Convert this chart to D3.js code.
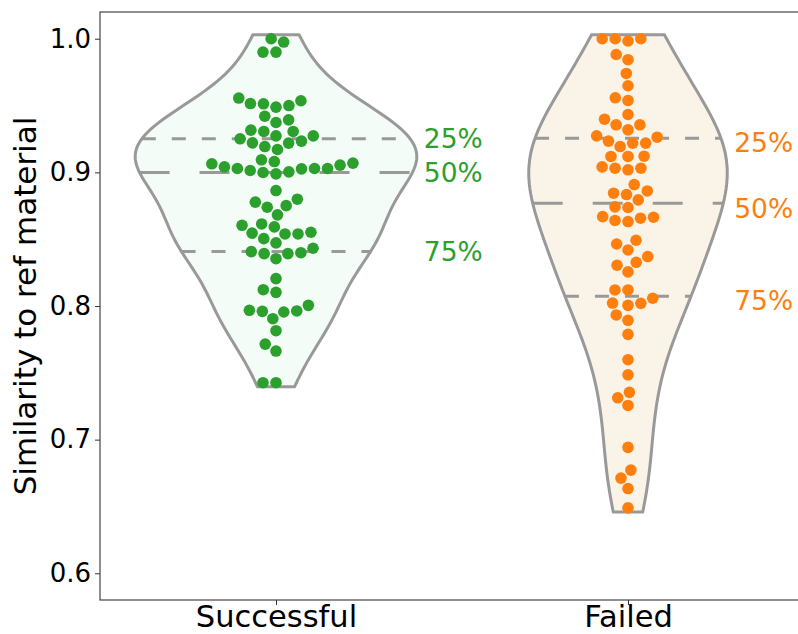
<!DOCTYPE html>
<html>
<head>
<meta charset="utf-8">
<script src="https://cdn.jsdelivr.net/npm/d3@7"></script>
<style>
  body { margin: 0; background: #fff; }
  svg { display: block; font-family: "DejaVu Sans", sans-serif; }
</style>
</head>
<body>
<svg id="chart" width="798" height="634"></svg>
<script>
// data
const categories = ["Successful", "Failed"];
const successful = [
    1.0, 0.9975, 0.990, 0.990,
    0.9556, 0.9536, 0.9515, 0.9513, 0.950, 0.9488,
    0.942, 0.9393, 0.9373,
    0.9316, 0.9306, 0.9306, 0.9273, 0.9273,
    0.9251, 0.9234, 0.9221, 0.9219, 0.9193, 0.9171,
    0.9094, 0.9081,
    0.9069, 0.9064, 0.9054, 0.9041, 0.9029, 0.9029, 0.9029, 0.9026, 0.9014, 0.9004, 0.8999, 0.8989,
    0.8864,
    0.8799, 0.8777, 0.8751, 0.8739,
    0.8682,
    0.8614, 0.8604, 0.8592, 0.8552, 0.8545, 0.8539, 0.8539,
    0.8504, 0.8472,
    0.8432, 0.8407, 0.8399, 0.8392, 0.8392, 0.8354,
    0.8205,
    0.8122, 0.8102,
    0.8005, 0.7968, 0.7963, 0.7960, 0.7955,
    0.7905,
    0.7815,
    0.7715, 0.7663,
    0.7426, 0.7426
];
const failed = [
    1.0, 1.0, 1.0, 0.9983,
    0.9882, 0.9843,
    0.974,
    0.9648,
    0.9558, 0.9538,
    0.9433,
    0.9398, 0.9356, 0.9356, 0.9318,
    0.9273, 0.9263,
    0.9234, 0.9219, 0.9219, 0.9193,
    0.9121, 0.9119, 0.9119,
    0.9041, 0.9031, 0.9031, 0.9019,
    0.8909,
    0.8861, 0.8844, 0.8834,
    0.8794,
    0.8742, 0.8737,
    0.8669, 0.8664, 0.8657, 0.864, 0.8632,
    0.8492, 0.8464, 0.8419,
    0.837, 0.8327, 0.8305,
    0.8255,
    0.812, 0.812, 0.8058,
    0.8022, 0.802, 0.8005,
    0.7933, 0.7893,
    0.7788,
    0.7598,
    0.7485,
    0.7354, 0.7313,
    0.7256,
    0.6942,
    0.6772, 0.6712,
    0.6634,
    0.6489
];
const groups = [successful, failed];
const yTicks = [0.6, 0.7, 0.8, 0.9, 1.0];
const quartiles = [0.75, 0.5, 0.25];
const quartileLabels = ["25%", "50%", "75%"];
const dotColors = ["#2ca02c", "#ff7f0e"];
const violinFills = ["#f3fcf6", "#faf3e8"];
const labelShift = [0, 5];

// layout
const width = 798, height = 634;
const margin = { top: 12, right: -6, bottom: 34, left: 100 };
const violinWidth = 0.8;
const gridSize = 100;
const violinPad = 0.003;
const dotR = 5.8;
const dotGap = 12.4;
const edgeColor = "#999999";
const edgeWidth = 3;

const svg = d3.select("#chart");

const x = d3.scalePoint()
    .domain(categories)
    .range([margin.left, width - margin.right])
    .padding(0.5);
const y = d3.scaleLinear()
    .domain([0.58, 1.02])
    .range([height - margin.bottom, margin.top]);

// gaussian kde, scott bandwidth, cut at data range
const kde = (data) => {
    const n = data.length;
    const bw = d3.deviation(data) * Math.pow(n, -0.2);
    const density = v => d3.mean(data, d => Math.exp(-0.5 * ((v - d) / bw) ** 2)) / (bw * Math.sqrt(2 * Math.PI));
    const [lo, hi] = d3.extent(data);
    const grid = d3.range(gridSize).map(i => lo - violinPad + (hi - lo + 2 * violinPad) * i / (gridSize - 1));
    return { points: grid.map(v => [v, density(v)]), density };
};
const kdes = groups.map(kde);
const maxDensity = d3.max(kdes, k => d3.max(k.points, p => p[1]));
const halfW = d3.scaleLinear().domain([0, maxDensity]).range([0, x.step() * violinWidth / 2]);

// beeswarm like seaborn: lowest value first, nearest candidate to midline
const swarm = (vals, cx) => {
    const pts = vals.map(v => ({ v, y: y(v) })).sort((a, b) => a.v - b.v);
    const placed = [];
    for (const p of pts) {
        const nb = placed.filter(q => Math.abs(q.y - p.y) < dotGap);
        const cands = [cx];
        for (const q of nb) {
            const dx = Math.sqrt(Math.max(dotGap ** 2 - (p.y - q.y) ** 2, 0)) * 1.05;
            cands.push(q.x - dx, q.x + dx);
        }
        cands.sort((a, b) => Math.abs(a - cx) - Math.abs(b - cx));
        const ok = cands.find(c => nb.every(q => Math.hypot(c - q.x, p.y - q.y) >= dotGap - 1e-6));
        p.x = ok === undefined ? cx : ok;
        placed.push(p);
    }
    return placed;
};

const plot = svg.append("g");

groups.forEach((data, i) => {
    const cx = x(categories[i]);
    const k = kdes[i];
    const g = plot.append("g");
    // violin body
    const area = d3.area()
        .y(d => y(d[0]))
        .x0(d => cx - halfW(d[1]))
        .x1(d => cx + halfW(d[1]));
    g.append("path")
        .attr("d", area(k.points))
        .attr("fill", violinFills[i])
        .attr("stroke", edgeColor)
        .attr("stroke-width", edgeWidth)
        .attr("stroke-linejoin", "round");
    // quartile lines
    const sorted = data.slice().sort(d3.ascending);
    quartiles.forEach((q, j) => {
        const v = d3.quantile(sorted, q);
        const w = halfW(k.density(v));
        g.append("line")
            .attr("x1", cx - w).attr("x2", cx + w)
            .attr("y1", y(v)).attr("y2", y(v))
            .attr("stroke", edgeColor)
            .attr("stroke-width", edgeWidth)
            .attr("stroke-dasharray", q === 0.5 ? "30,30" : "14,16");
        g.append("text")
            .attr("x", cx + halfW(d3.max(k.points, p => p[1])) + 7)
            .attr("y", y(v) + labelShift[i])
            .attr("dy", "0.35em")
            .attr("font-size", 26.5)
            .attr("fill", dotColors[i])
            .text(quartileLabels[j]);
    });
    // points
    g.selectAll("circle")
        .data(swarm(data, cx))
        .join("circle")
        .attr("cx", d => d.x)
        .attr("cy", d => d.y)
        .attr("r", dotR)
        .attr("fill", dotColors[i]);
});

// axes
const yAxis = svg.append("g")
    .attr("transform", `translate(${margin.left},0)`)
    .call(d3.axisLeft(y).tickValues(yTicks).tickFormat(d3.format(".1f")).tickSize(5).tickPadding(4));
yAxis.select(".domain").remove();
yAxis.selectAll("text").attr("font-size", 26).attr("fill", "#000").attr("font-family", "DejaVu Sans");
yAxis.selectAll("line").attr("stroke", "#333");

const xAxis = svg.append("g")
    .attr("transform", `translate(0,${height - margin.bottom})`)
    .call(d3.axisBottom(x).tickSize(5).tickPadding(0));
xAxis.select(".domain").remove();
xAxis.selectAll("text").attr("font-size", 30.5).attr("fill", "#000").attr("font-family", "DejaVu Sans");
xAxis.selectAll("line").attr("stroke", "#333");

// frame
svg.append("rect")
    .attr("x", margin.left)
    .attr("y", margin.top)
    .attr("width", width - margin.right - margin.left)
    .attr("height", height - margin.bottom - margin.top)
    .attr("fill", "none")
    .attr("stroke", "#333")
    .attr("stroke-width", 1.1);

svg.append("text")
    .attr("transform", `translate(36,${(margin.top + height - margin.bottom) / 2}) rotate(-90)`)
    .attr("text-anchor", "middle")
    .attr("font-size", 31)
    .text("Similarity to ref material");
</script>
</body>
</html>
